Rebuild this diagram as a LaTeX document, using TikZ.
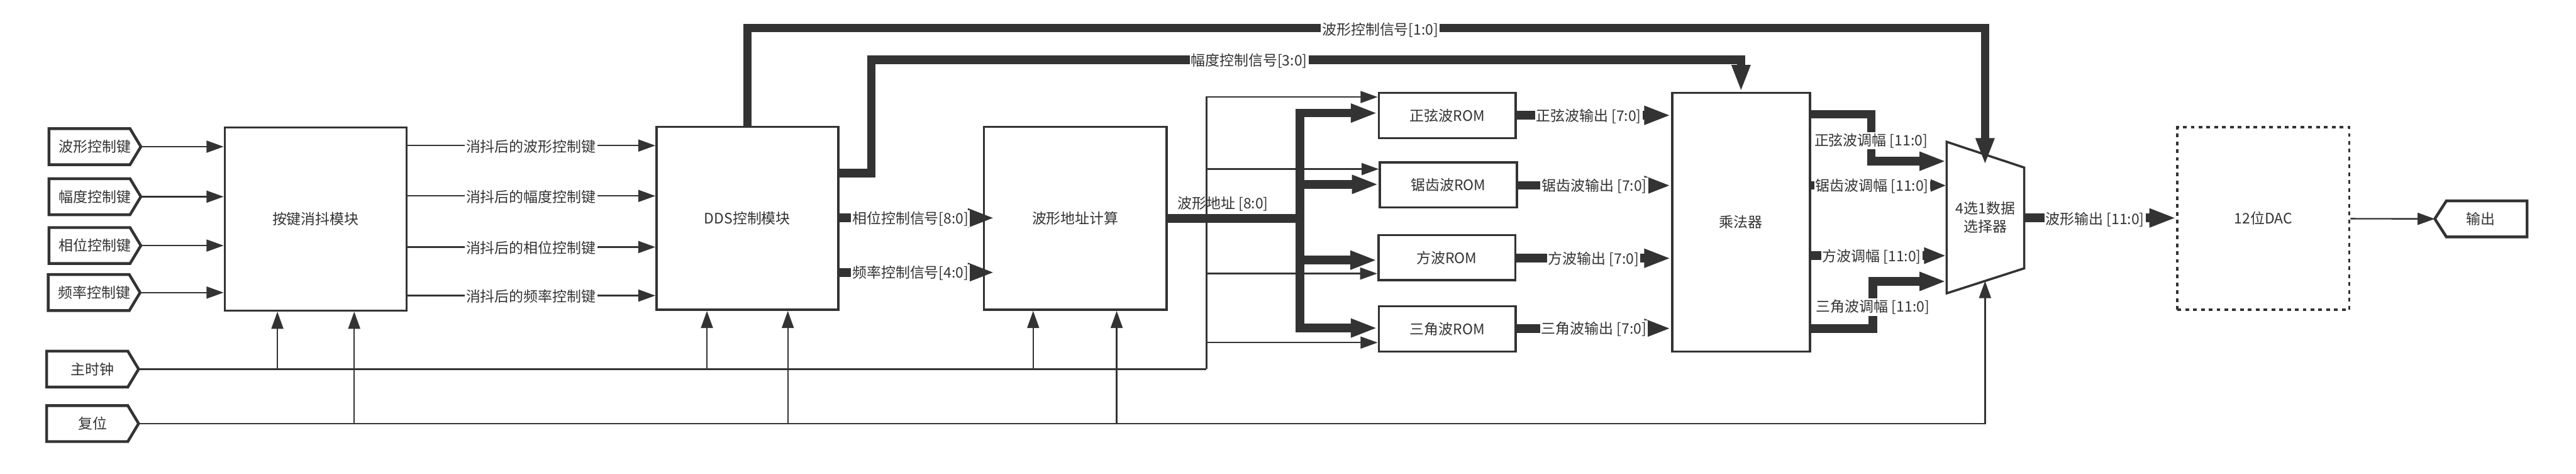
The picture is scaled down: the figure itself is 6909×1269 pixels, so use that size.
\documentclass[tikz,border=0pt]{standalone}
\usepackage{fontspec}
\setmainfont{Noto Sans CJK SC}
\usetikzlibrary{arrows.meta,calc}
\definecolor{ink}{HTML}{333333}
\newcommand\tagR[1]{\draw[draw=ink,line width=0.075cm,fill=white] (#1.north west) -- ($(#1.north east)+(-29,0)$) -- (#1.east) -- ($(#1.south east)+(-29,0)$) -- (#1.south west) -- cycle;}
\newcommand\tagL[1]{\draw[draw=ink,line width=0.075cm,fill=white] (#1.west) -- ($(#1.north west)+(31,0)$) -- (#1.north east) -- (#1.south east) -- ($(#1.south west)+(31,0)$) -- cycle;}
\begin{document}
\begin{tikzpicture}[x=0.01cm,y=-0.01cm,
  every node/.style={font=\fontsize{11pt}{14pt}\selectfont, text=ink},
  blk/.style={draw=ink, line width=0.06cm, fill=white, inner sep=0pt},
  tagtxt/.style={inner sep=0pt, minimum width=2.45cm, minimum height=0.95cm},
  wire/.style={draw=ink, line width=0.04cm},
  wirearr/.style={wire, -{Triangle[length=0.46cm,width=0.32cm]}},
  bus/.style={draw=ink, line width=0.23cm},
  busarr/.style={bus, -{Triangle[length=0.72cm,width=0.46cm]}},
  busarrsmall/.style={bus, -{Triangle[length=0.42cm,width=0.30cm]}},
  busarrmid/.style={bus, -{Triangle[length=0.60cm,width=0.40cm]}},
  lbl/.style={fill=white, inner sep=1pt},
  lblnf/.style={inner sep=1pt}]
\useasboundingbox (0,0) rectangle (6909,1269);

% ---- input / output tags
\node[tagtxt] (kw) at (254.5,393) {};
\node[tagtxt] (ka) at (254.5,527) {};
\node[tagtxt] (kp) at (254.5,658) {};
\node[tagtxt] (kf) at (252.5,784) {};
\node[tagtxt] (clk) at (248.5,989) {};
\node[tagtxt] (rst) at (248.5,1135) {};
\node[tagtxt, minimum width=2.46cm] (out) at (6654,586.5) {};
\tagR{kw}\tagR{ka}\tagR{kp}\tagR{kf}\tagR{clk}\tagR{rst}\tagL{out}
\node at (kw) {波形控制键};
\node at (ka) {幅度控制键};
\node at (kp) {相位控制键};
\node at (kf) {频率控制键};
\node at (clk) {主时钟};
\node at (rst) {复位};
\node at (out) {输出};

% ---- blocks
\node[blk, minimum width=4.87cm, minimum height=4.90cm] (A) at (846.5,587) {按键消抖模块};
\node[blk, minimum width=4.87cm, minimum height=4.90cm] (B) at (2004.5,585) {DDS控制模块};
\node[blk, minimum width=4.90cm, minimum height=4.90cm] (C) at (2884,585) {波形地址计算};
\node[blk, minimum width=3.67cm, minimum height=1.21cm] (rs) at (3881.5,309.5) {正弦波ROM};
\node[blk, minimum width=3.67cm, minimum height=1.21cm] (rw) at (3884.5,495.5) {锯齿波ROM};
\node[blk, minimum width=3.67cm, minimum height=1.21cm] (rq) at (3880.5,690.5) {方波ROM};
\node[blk, minimum width=3.67cm, minimum height=1.21cm] (rt) at (3881.5,881.5) {三角波ROM};
\node[blk, minimum width=3.69cm, minimum height=6.93cm] (mul) at (4669.5,595.5) {乘法器};
\draw[draw=ink, line width=0.06cm, fill=white] (5221,380) -- (5429,449) -- (5429,719) -- (5221,786) -- cycle;
\node[inner sep=0pt, minimum width=2.08cm, minimum height=4.06cm, align=center] (mux) at (5325,583) {4选1数据\\选择器};
\node[blk, dash pattern=on 0.1cm off 0.11cm, minimum width=4.61cm, minimum height=4.89cm] (dac) at (6070.5,585.5) {12位DAC};

% ---- tags to debounce
\foreach \n in {kw,ka,kp,kf} \draw[wirearr] (\n.east) -- (\n.east -| A.west);

% ---- debounce to DDS
\foreach \y in {390,525,662,792} \draw[wirearr] (A.east |- 0,\y) -- (B.west |- 0,\y);

% ---- clock
\draw[wire] (clk.east) -- (3236,989);
\foreach \x/\n in {744/A,1896/B,2771/C} \draw[wirearr] (\x,989) -- (\n.south -| \x,0);
\foreach \y/\n in {260/rs,453/rw,733/rq,918/rt} \draw[wirearr] (3236,989) |- (\n.west |- 0,\y);

% ---- reset
\draw[wirearr] (rst.east) -| (5324,753);
\foreach \x/\n in {950/A,2113/B,2995/C} \draw[wirearr] (\x,1135) -- (\n.south -| \x,0);

% ---- control buses
\draw[busarr] (B.north) |- (5324,75) -- (5324,442);
\draw[busarr] (B.east |- 0,464) -| (2337,160) -| (mul.north);
\draw[busarr] (B.east |- 0,584) -- ($(C.west |- 0,584)+(32,0)$);
\draw[busarr] (B.east |- 0,730) -- ($(C.west |- 0,730)+(32,0)$);

% ---- address bus
\draw[bus] (C.east |- 0,585) -- (3487,585);
\foreach \y/\n in {303/rs,494/rw,697/rq,879/rt} \draw[busarr] (3487,585) |- (\n.west |- 0,\y);

% ---- ROM outputs
\foreach \n/\y in {rs/309,rw/497,rq/692,rt/880} \draw[busarr] (\n.east |- 0,\y) -- (mul.west |- 0,\y);

% ---- multiplier outputs
\draw[busarr] (mul.east |- 0,306) -| (5019,432) -- (mux.west |- 0,432);
\draw[busarrsmall] (mul.east |- 0,497) -- (mux.west |- 0,497);
\draw[busarrmid] (mul.east |- 0,685) -- (mux.west |- 0,685);
\draw[busarr] (mul.east |- 0,880) -| (5023,754) -- (mux.west |- 0,754);

% ---- mux to DAC, DAC to output
\draw[busarr] (5429,584) -- (dac.west |- 0,584);
\draw[wirearr] (dac.east |- 0,586) -- (out.west);

% ---- labels
\node[lbl] at (1424,392) {消抖后的波形控制键};
\node[lbl] at (1424,527) {消抖后的幅度控制键};
\node[lbl] at (1424,664) {消抖后的相位控制键};
\node[lbl] at (1424,794) {消抖后的频率控制键};
\node[lbl] at (3702,80) {波形控制信号[1:0]};
\node[lbl] at (3350,163) {幅度控制信号[3:0]};
\node[lbl] at (2442,586) {相位控制信号[8:0]};
\node[lbl] at (2442,732) {频率控制信号[4:0]};
\node[lblnf] at (3280,547) {波形地址 [8:0]};
\node[lbl] at (4261,311) {正弦波输出 [7:0]};
\node[lbl] at (4276,499) {锯齿波输出 [7:0]};
\node[lbl] at (4274,694) {方波输出 [7:0]};
\node[lbl] at (4275,882) {三角波输出 [7:0]};
\node[lbl] at (5018,377) {正弦波调幅 [11:0]};
\node[lbl] at (5021,499) {锯齿波调幅 [11:0]};
\node[lbl] at (5020,687) {方波调幅 [11:0]};
\node[lbl] at (5023,823) {三角波调幅 [11:0]};
\node[lbl] at (5619,588) {波形输出 [11:0]};
\end{tikzpicture}
\end{document}
